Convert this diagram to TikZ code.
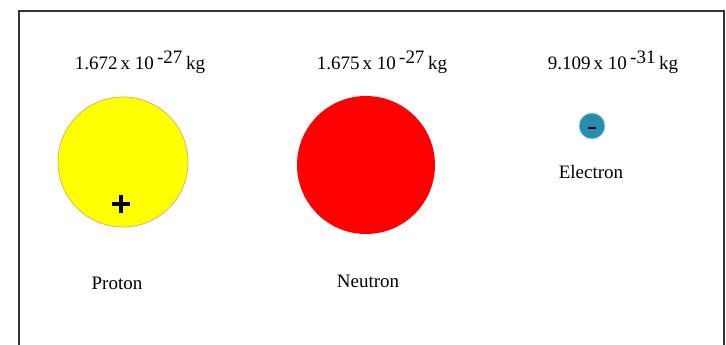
\documentclass[tikz,border=0pt]{standalone}
\usepackage{fontspec}
\setmainfont{Liberation Serif}
\begin{document}
\begin{tikzpicture}[x=1pt,y=-1pt,
  lbl/.style={font=\fontsize{19}{21}\selectfont, inner sep=0pt},
  particle/.style={circle, inner sep=0pt}]
\useasboundingbox (0,0) rectangle (726,345);
\fill[white] (0,0) rectangle (726,345);
\draw[line width=1.2pt, black!80] (19,350) -- (19,11) -- (724,11) -- (724,350);
% masses
\node[lbl] (mp) at (140,62) {1.672\,x 10\,$^{\textrm{-27}}$\,kg};
\node[lbl] (mn) at (382,62) {1.675\,x 10\,$^{\textrm{-27}}$\,kg};
\node[lbl] (me) at (613,62) {9.109\,x 10\,$^{\textrm{-31}}$\,kg};
% particles
\node[particle, fill={rgb,255:red,255;green,255;blue,0}, draw={rgb,255:red,220;green,180;blue,90}, line width=0.8pt, minimum size=130pt] (p) at (123,162) {};
\node[particle, fill={rgb,255:red,255;green,0;blue,0}, minimum size=138pt] (n) at (366,165) {};
\node[particle, fill={rgb,255:red,40;green,140;blue,175}, draw={rgb,255:red,160;green,215;blue,235}, line width=0.8pt, minimum size=26pt] (e) at (592,126) {};
\coordinate (plus) at (121,204);
\draw[line width=3.2pt] ([xshift=-9pt]plus) -- ([xshift=9pt]plus);
\draw[line width=3.2pt] ([yshift=-9pt]plus) -- ([yshift=9pt]plus);
\draw[line width=2.6pt] ([xshift=-4pt,yshift=-2pt]e.center) -- ([xshift=4pt,yshift=-2pt]e.center);
% names
\node[lbl] (lp) at (117,283) {Proton};
\node[lbl] (ln) at (368,281) {Neutron};
\node[lbl] (le) at (591,172) {Electron};
\end{tikzpicture}
\end{document}
